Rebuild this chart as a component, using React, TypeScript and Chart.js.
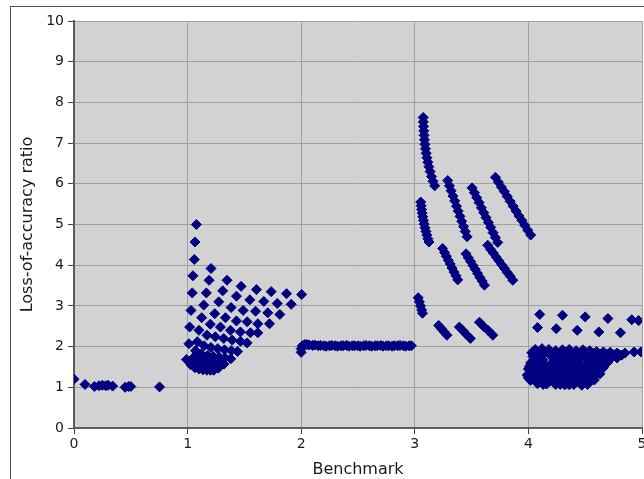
import React, { useEffect, useRef } from "react";
import { Chart, registerables } from "chart.js";

Chart.register(...registerables);

// ---- axis definitions ----
const X_MIN = 0;
const X_MAX = 5;
const Y_MIN = 0;
const Y_MAX = 10;
const X_TITLE = "Benchmark";
const Y_TITLE = "Loss-of-accuracy ratio";

// ---- benchmark 0 ----
const bench0X = [0.0, 0.097, 0.18, 0.22, 0.25, 0.28, 0.3, 0.34, 0.45, 0.48, 0.5, 0.753];
const bench0Y = [1.2, 1.07, 1.02, 1.04, 1.05, 1.04, 1.05, 1.03, 1.0, 1.02, 1.02, 1.01];

// ---- benchmark 1 (fan) ----
const bench1X = [
  1.077, 1.065, 1.059, 1.047, 1.041, 1.03, 1.018, 1.012, 0.99,
  1.206, 1.347, 1.471, 1.606, 1.736, 1.871, 2.004,
  1.189, 1.309, 1.43, 1.548, 1.671, 1.789, 1.912,
  1.165, 1.274, 1.383, 1.489, 1.598, 1.706, 1.812,
  1.142, 1.239, 1.333, 1.43, 1.524, 1.618, 1.721,
  1.124, 1.2, 1.289, 1.377, 1.465, 1.553, 1.618,
  1.1, 1.171, 1.244, 1.318, 1.392, 1.465, 1.524,
  1.085, 1.145, 1.205, 1.265, 1.325, 1.385, 1.44,
  1.07, 1.12, 1.175, 1.225, 1.28, 1.33, 1.38,
  1.055, 1.1, 1.145, 1.19, 1.235, 1.28, 1.32,
  1.04, 1.08, 1.12, 1.16, 1.2, 1.24, 1.27,
  1.03, 1.065, 1.1, 1.135, 1.17, 1.2, 1.23,
];
const bench1Y = [
  5.0, 4.57, 4.14, 3.74, 3.32, 2.89, 2.48, 2.07, 1.68,
  3.92, 3.63, 3.48, 3.4, 3.35, 3.3, 3.28,
  3.63, 3.37, 3.24, 3.15, 3.11, 3.06, 3.04,
  3.32, 3.1, 2.96, 2.89, 2.87, 2.83, 2.79,
  3.02, 2.81, 2.71, 2.63, 2.61, 2.56, 2.56,
  2.71, 2.55, 2.48, 2.4, 2.36, 2.34, 2.34,
  2.4, 2.28, 2.24, 2.2, 2.16, 2.13, 2.09,
  2.12, 2.02, 1.98, 1.95, 1.92, 1.9, 1.88,
  1.9, 1.82, 1.78, 1.76, 1.74, 1.72, 1.7,
  1.74, 1.66, 1.63, 1.61, 1.6, 1.58, 1.57,
  1.62, 1.55, 1.52, 1.5, 1.49, 1.48, 1.47,
  1.55, 1.48, 1.45, 1.43, 1.42, 1.42, 1.42,
];

// ---- benchmark 2 (flat run) ----
const bench2X = [
  2.0, 2.0, 2.01, 2.03, 2.05, 2.07, 2.1, 2.12, 2.15, 2.17, 2.2, 2.22, 2.25, 2.27,
  2.3, 2.32, 2.35, 2.37, 2.4, 2.42, 2.45, 2.47, 2.5, 2.52, 2.55, 2.57, 2.6, 2.62,
  2.65, 2.67, 2.7, 2.72, 2.75, 2.77, 2.8, 2.82, 2.85, 2.87, 2.9, 2.92, 2.95, 2.97,
];
const bench2Y = [
  1.86, 1.95, 2.02, 2.05, 2.05, 2.04, 2.03, 2.04, 2.02, 2.03, 2.02, 2.01, 2.02, 2.03,
  2.02, 2.01, 2.02, 2.02, 2.03, 2.01, 2.02, 2.02, 2.02, 2.01, 2.02, 2.03, 2.02, 2.01,
  2.02, 2.02, 2.03, 2.01, 2.02, 2.02, 2.01, 2.02, 2.02, 2.03, 2.02, 2.01, 2.02, 2.02,
];

// ---- benchmark 3 (streaks) ----
const bench3HighX = [
  3.074, 3.075, 3.077, 3.079, 3.082, 3.085, 3.089, 3.094, 3.1, 3.107, 3.115, 3.124, 3.135, 3.147, 3.16, 3.175,
  3.052, 3.056, 3.06, 3.065, 3.07, 3.076, 3.083, 3.09, 3.098, 3.106, 3.115, 3.125,
  3.29, 3.305, 3.32, 3.336, 3.351, 3.367, 3.382, 3.398, 3.413, 3.429, 3.444, 3.46,
  3.504, 3.525, 3.545, 3.566, 3.586, 3.607, 3.627, 3.648, 3.668, 3.689, 3.709, 3.73,
  3.71, 3.736, 3.762, 3.788, 3.813, 3.839, 3.865, 3.891, 3.917, 3.943, 3.968, 3.994, 4.02,
];
const bench3HighY = [
  7.63, 7.52, 7.41, 7.3, 7.19, 7.08, 6.97, 6.86, 6.75, 6.64, 6.53, 6.42, 6.3, 6.18, 6.06, 5.95,
  5.55, 5.46, 5.37, 5.28, 5.19, 5.1, 5.01, 4.92, 4.83, 4.74, 4.65, 4.57,
  6.08, 5.95, 5.83, 5.7, 5.58, 5.45, 5.33, 5.2, 5.08, 4.95, 4.83, 4.7,
  5.9, 5.78, 5.66, 5.54, 5.41, 5.29, 5.17, 5.05, 4.93, 4.8, 4.68, 4.56,
  6.16, 6.04, 5.92, 5.81, 5.69, 5.57, 5.45, 5.33, 5.21, 5.1, 4.98, 4.86, 4.74,
];
const bench3MidX = [
  3.03, 3.04, 3.05, 3.06, 3.068,
  3.245, 3.262, 3.278, 3.295, 3.312, 3.328, 3.345, 3.362, 3.378,
  3.451, 3.471, 3.492, 3.512, 3.532, 3.552, 3.573, 3.593, 3.613,
  3.642, 3.667, 3.691, 3.716, 3.74, 3.765, 3.79, 3.814, 3.839, 3.863,
];
const bench3MidY = [
  3.2, 3.1, 3.0, 2.9, 2.82,
  4.41, 4.31, 4.22, 4.12, 4.03, 3.93, 3.83, 3.74, 3.64,
  4.28, 4.18, 4.09, 3.99, 3.9, 3.8, 3.7, 3.61, 3.51,
  4.49, 4.39, 4.3, 4.2, 4.11, 4.01, 3.92, 3.82, 3.73, 3.63,
];
const bench3LowX = [
  3.21, 3.234, 3.259, 3.283,
  3.392, 3.424, 3.457, 3.489,
  3.569, 3.608, 3.648, 3.687,
];
const bench3LowY = [
  2.52, 2.44, 2.36, 2.28,
  2.48, 2.39, 2.29, 2.2,
  2.6, 2.49, 2.39, 2.28,
];

// ---- benchmark 4 (cluster) ----
const bench4UpperX = [
  4.1, 4.3, 4.5, 4.7, 4.91, 4.97,
  4.08, 4.245, 4.43, 4.62, 4.81,
];
const bench4UpperY = [
  2.79, 2.77, 2.73, 2.69, 2.66, 2.64,
  2.47, 2.44, 2.4, 2.36, 2.34,
];
const bench4BlobX = [
  4.06, 4.12, 4.18, 4.24, 4.3, 4.36, 4.42, 4.48, 4.54, 4.6, 4.66, 4.72, 4.78,
  4.03, 4.09, 4.15, 4.27, 4.33, 4.39, 4.45, 4.51, 4.57, 4.63, 4.69, 4.75, 4.82,
  4.04, 4.1, 4.2, 4.26, 4.34, 4.4, 4.5, 4.56, 4.62, 4.68, 4.74, 4.8, 4.85,
  4.05, 4.13, 4.23, 4.31, 4.37, 4.45, 4.53, 4.59, 4.65, 4.71, 4.78,
  4.02, 4.08, 4.2, 4.26, 4.36, 4.4, 4.52, 4.58, 4.64, 4.7,
  4.01, 4.09, 4.15, 4.22, 4.29, 4.33, 4.45, 4.5, 4.55, 4.61, 4.67,
  4.0, 4.06, 4.12, 4.18, 4.24, 4.3, 4.36, 4.42, 4.48, 4.54, 4.6, 4.66,
  4.02, 4.08, 4.14, 4.2, 4.27, 4.33, 4.39, 4.45, 4.51, 4.57, 4.62,
  3.99, 4.05, 4.11, 4.17, 4.23, 4.29, 4.35, 4.41, 4.47, 4.53, 4.59, 4.63,
  4.0, 4.04, 4.1, 4.16, 4.22, 4.28, 4.34, 4.4, 4.46, 4.52, 4.57,
  4.02, 4.07, 4.13, 4.19, 4.25, 4.31, 4.37, 4.43, 4.49, 4.55, 4.58,
  4.08, 4.13, 4.16, 4.24, 4.28, 4.32, 4.36, 4.4, 4.47, 4.52,
  4.93, 4.99,
];
const bench4BlobY = [
  1.93, 1.95, 1.93, 1.9, 1.92, 1.93, 1.9, 1.92, 1.9, 1.88, 1.87, 1.86, 1.84,
  1.85, 1.84, 1.86, 1.83, 1.85, 1.84, 1.82, 1.85, 1.83, 1.82, 1.81, 1.8, 1.79,
  1.76, 1.74, 1.77, 1.73, 1.76, 1.74, 1.76, 1.73, 1.75, 1.72, 1.76, 1.8, 1.84,
  1.68, 1.67, 1.69, 1.66, 1.68, 1.67, 1.69, 1.66, 1.68, 1.67, 1.72,
  1.6, 1.62, 1.58, 1.6, 1.6, 1.57, 1.6, 1.58, 1.6, 1.62,
  1.52, 1.53, 1.51, 1.53, 1.52, 1.5, 1.53, 1.51, 1.52, 1.53, 1.55,
  1.45, 1.47, 1.44, 1.46, 1.43, 1.46, 1.44, 1.45, 1.43, 1.46, 1.44, 1.48,
  1.38, 1.37, 1.39, 1.36, 1.38, 1.37, 1.39, 1.36, 1.38, 1.37, 1.4,
  1.3, 1.32, 1.29, 1.31, 1.3, 1.28, 1.31, 1.29, 1.3, 1.28, 1.3, 1.33,
  1.23, 1.22, 1.24, 1.22, 1.23, 1.21, 1.24, 1.22, 1.23, 1.21, 1.24,
  1.17, 1.15, 1.18, 1.16, 1.14, 1.17, 1.15, 1.16, 1.13, 1.16, 1.18,
  1.09, 1.07, 1.08, 1.07, 1.07, 1.06, 1.06, 1.07, 1.05, 1.07,
  1.87, 1.87,
];

// ---- styles ----
const NAVY = "#000080";
const PLOT_BG = "#d2d2d2";
const GRID = "#a0a0a0";
const AXIS = "#5c5c5c";
const TICK = "#3c3c3c";
const TEXT = "#1a1a1a";
const FONT = "'DejaVu Sans', 'Liberation Sans', sans-serif";

function zip(xs: number[], ys: number[]) {
  return xs.map((x, i) => ({ x, y: ys[i] }));
}

const plotBackground = {
  id: "plotBackground",
  beforeDraw(chart: any) {
    const { ctx, chartArea } = chart;
    if (!chartArea) return;
    ctx.save();
    ctx.fillStyle = PLOT_BG;
    ctx.fillRect(chartArea.left, chartArea.top, chartArea.right - chartArea.left, chartArea.bottom - chartArea.top);
    ctx.restore();
  },
};

export default function App() {
  const canvasRef = useRef<HTMLCanvasElement | null>(null);

  useEffect(() => {
    if (!canvasRef.current) return;
    const points = [
      ...zip(bench0X, bench0Y),
      ...zip(bench1X, bench1Y),
      ...zip(bench2X, bench2Y),
      ...zip(bench3HighX, bench3HighY),
      ...zip(bench3MidX, bench3MidY),
      ...zip(bench3LowX, bench3LowY),
      ...zip(bench4UpperX, bench4UpperY),
      ...zip(bench4BlobX, bench4BlobY),
    ];
    const chart = new Chart(canvasRef.current, {
      type: "scatter",
      data: {
        datasets: [
          {
            data: points,
            pointStyle: "rectRot",
            pointRadius: 5,
            pointHoverRadius: 5,
            borderWidth: 1,
            backgroundColor: NAVY,
            borderColor: NAVY,
          },
        ],
      },
      options: {
        responsive: false,
        animation: false,
        events: [],
        layout: { padding: { top: 21, right: 78, bottom: 0, left: 0 } },
        plugins: { legend: { display: false }, tooltip: { enabled: false } },
        scales: {
          x: {
            type: "linear",
            min: X_MIN,
            max: X_MAX,
            ticks: { stepSize: 1, color: TEXT, font: { family: FONT, size: 14 }, padding: 2 },
            grid: { color: GRID, tickColor: TICK, tickLength: 6 },
            border: { color: AXIS, width: 2 },
            title: {
              display: true,
              text: X_TITLE,
              color: TEXT,
              font: { family: FONT, size: 16 },
              padding: { top: 0, bottom: 0 },
            },
            afterFit: (s: any) => {
              s.height = 51;
            },
          },
          y: {
            type: "linear",
            min: Y_MIN,
            max: Y_MAX,
            ticks: { stepSize: 1, color: TEXT, font: { family: FONT, size: 14 }, padding: 4 },
            grid: { color: GRID, tickColor: TICK, tickLength: 6 },
            border: { color: AXIS, width: 2 },
            title: {
              display: true,
              text: Y_TITLE,
              color: TEXT,
              font: { family: FONT, size: 16 },
              padding: { top: 18, bottom: 0 },
            },
            afterFit: (s: any) => {
              s.width = 74;
            },
          },
        },
      },
      plugins: [plotBackground],
    });
    return () => chart.destroy();
  }, []);

  return (
    <div
      style={{
        position: "fixed",
        left: 0,
        top: 0,
        width: 644,
        height: 479,
        overflow: "hidden",
        background: "#fff",
      }}
    >
      <div
        style={{
          position: "absolute",
          left: 10,
          top: 6,
          width: 720,
          height: 560,
          border: "1px solid #555",
        }}
      />
      <canvas
        ref={canvasRef}
        width={720}
        height={479}
        style={{ position: "absolute", left: 0, top: 0, width: 720, height: 479 }}
      />
    </div>
  );
}
